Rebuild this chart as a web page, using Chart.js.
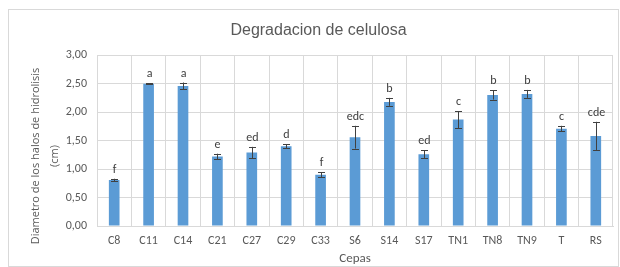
<!DOCTYPE html>
<html><head><meta charset="utf-8">
<script src="https://cdn.jsdelivr.net/npm/chart.js@4"></script>
<style>html,body{margin:0;padding:0;background:#fff}#w{width:620px;height:267px}</style>
</head><body><div id="w"><canvas id="c" width="620" height="267"></canvas></div>
<script>
const categories = ["C8","C11","C14","C21","C27","C29","C33","S6","S14","S17","TN1","TN8","TN9","T","RS"];
const values = [0.81,2.50,2.46,1.22,1.29,1.40,0.90,1.56,2.18,1.26,1.87,2.30,2.32,1.71,1.58];
const errors = [0.02,0.005,0.06,0.05,0.10,0.035,0.04,0.20,0.07,0.07,0.15,0.08,0.07,0.05,0.25];
const letters = ["f","a","a","e","ed","d","f","edc","b","ed","c","b","b","c","cde"];
const yTicks = [0,0.5,1,1.5,2,2.5,3];
const chartTitle = "Degradacion de celulosa";
const yTitle = ["Diametro de los halos de hidrolisis","(cm)"];

const FONT = "Calibri, Carlito, Lato, 'Liberation Sans', Arial, sans-serif";
const frame = {
  id:'frame',
  beforeDraw(chart){
    const c=chart.ctx; c.save(); c.fillStyle='#fff'; c.fillRect(0,0,chart.width,chart.height);
    c.strokeStyle='#d9d9d9'; c.lineWidth=1; c.strokeRect(8.5,9.5,610,257);
    c.fillStyle='#595959'; c.textAlign='center'; c.textBaseline='middle';
    c.font="16px 'Liberation Sans', Arial, sans-serif";
    c.fillText(chartTitle,318.5,31);
    c.translate(45.5,156); c.rotate(-Math.PI/2);
    c.font="11px 'Open Sans', sans-serif";
    c.fillText(yTitle[0],0,-9.5); c.fillText(yTitle[1],0,9.5);
    c.restore();
  }
};
const errPlugin = {
  id:'err',
  afterDatasetsDraw(chart){
    const c=chart.ctx, x=chart.scales.x, y=chart.scales.y;
    c.save();
    values.forEach((v,i)=>{
      const px=Math.round(x.getPixelForValue(i))+0.5;
      const t=y.getPixelForValue(v+errors[i]), b=y.getPixelForValue(v-errors[i]);
      c.strokeStyle='#404040'; c.lineWidth=1;
      c.beginPath(); c.moveTo(px,t); c.lineTo(px,b);
      c.moveTo(px-3.5,Math.round(t)+0.5); c.lineTo(px+3.5,Math.round(t)+0.5);
      c.moveTo(px-3.5,Math.round(b)+0.5); c.lineTo(px+3.5,Math.round(b)+0.5);
      c.stroke();
      c.fillStyle='#404040'; c.font='12px '+FONT; c.textAlign='center'; c.textBaseline='bottom';
      c.fillText(letters[i],px,t-3);
    });
    c.restore();
  }
};
new Chart(document.getElementById('c'),{
  type:'bar',
  data:{labels:categories,datasets:[{data:values,backgroundColor:'#5b9bd5',borderWidth:0,categoryPercentage:1,barPercentage:0.31}]},
  options:{
    responsive:false,animation:false,
    layout:{padding:{left:0,right:7,top:0,bottom:0}},
    plugins:{legend:{display:false},tooltip:{enabled:false},
      title:{display:true,text:chartTitle,color:'rgba(0,0,0,0)',font:{family:"'Liberation Sans', Arial, sans-serif",size:16,weight:'normal'},padding:{top:20,bottom:16}}},
    scales:{
      x:{grid:{color:'#d9d9d9',offset:true,drawTicks:false},border:{color:'#d9d9d9'},
        ticks:{color:'#595959',font:{family:FONT,size:12},padding:8,maxRotation:0,autoSkip:false},
        title:{display:true,text:'Cepas',color:'#595959',font:{family:FONT,size:13},padding:{top:5,bottom:0}},
        afterFit(s){s.height=41;}},
      y:{min:0,max:3,afterBuildTicks(s){s.ticks=yTicks.map(v=>({value:v}));},
        grid:{color:'#d9d9d9',drawTicks:false},border:{display:false},
        ticks:{color:'#595959',font:{family:FONT,size:12},padding:10,callback:v=>v.toFixed(2).replace('.',',')},
        afterFit(s){s.width=97;}}
    }
  },
  plugins:[frame,errPlugin]
});
</script></body></html>
